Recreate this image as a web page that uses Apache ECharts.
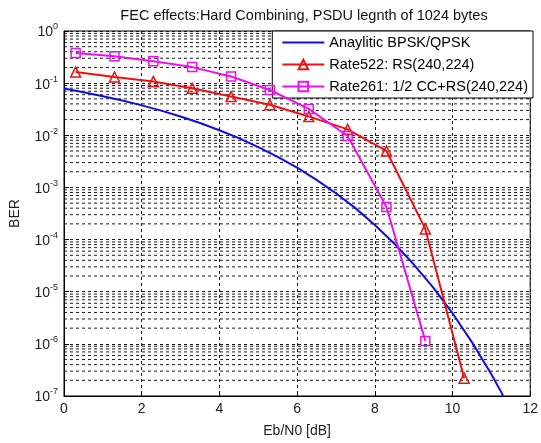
<!DOCTYPE html>
<html>
<head>
<meta charset="utf-8">
<script src="https://cdn.jsdelivr.net/npm/echarts@6/dist/echarts.min.js"></script>
<style>html,body{margin:0;padding:0;background:#fff}#c{width:541px;height:443px}</style>
</head>
<body>
<div id="c"></div>
<script>
// Analytic BPSK/QPSK curve
const bpskX = [0,0.5,1,1.5,2,2.5,3,3.5,4,4.5,5,5.5,6,6.5,7,7.5,8,8.5,9,9.5,10,10.5,11,11.25,11.5];
const bpskY = [0.0786,0.0671,0.0563,0.0464,0.0375,0.0297,0.0229,0.0172,0.0125,0.0088,0.00595,0.00386,0.00239,0.0014,7.73e-4,4.01e-4,1.91e-4,8.4e-5,3.36e-5,1.21e-5,3.87e-6,1.08e-6,2.61e-7,1.2e-7,5.3e-8];
// Rate522: RS(240,224)
const r522X = [0.3,1.3,2.3,3.3,4.3,5.3,6.3,7.3,8.3,9.3,10.3];
const r522Y = [0.163,0.131,0.108,0.0795,0.0552,0.0385,0.023,0.013,0.0050,1.6e-4,2.2e-7];
// Rate261: 1/2 CC+RS(240,224)
const r261X = [0.3,1.3,2.3,3.3,4.3,5.3,6.3,7.3,8.3,9.3];
const r261Y = [0.379,0.327,0.264,0.203,0.134,0.0738,0.032,0.0097,4.2e-4,1.14e-6];
// minor grid values
const minorExp = [-7,-6,-5,-4,-3,-2,-1];
const minorMant = [2,3,4,5,6,7,8,9];
const seriesNames = ['Anaylitic BPSK/QPSK','Rate522: RS(240,224)','Rate261: 1/2 CC+RS(240,224)'];
const titleText = 'FEC effects:Hard Combining, PSDU legnth of 1024 bytes';

const zip = (xs, ys) => xs.map((x, i) => [x, ys[i]]);
const minorData = [];
minorExp.forEach(e => minorMant.forEach(m => {
  const v = m * Math.pow(10, e);
  minorData.push([0, v], [12, v], [12, '-']);
}));

const FONT = 'Liberation Sans, Arial, sans-serif';
const GRIDC = '#1a1a1a';
const chart = echarts.init(document.getElementById('c'));
chart.setOption({
  animation: false,
  backgroundColor: '#fff',
  title: {
    text: titleText, left: 299, top: 3, textAlign: 'center',
    textStyle: {fontFamily: FONT, fontSize: 14.5, fontWeight: 'normal', color: '#111'}
  },
  grid: {left: 62, right: 8, top: 31, bottom: 41, show: true, borderColor: '#000', borderWidth: 1, backgroundColor: 'transparent'},
  legend: {
    data: [
      {name: seriesNames[0], itemStyle: {opacity: 0}},
      {name: seriesNames[1]},
      {name: seriesNames[2]}
    ],
    orient: 'vertical', right: 8, top: 31,
    backgroundColor: '#fff', borderColor: '#000', borderWidth: 1, borderRadius: 0,
    padding: [4, 5, 4, 9], itemGap: 7, itemWidth: 42, itemHeight: 12,
    textStyle: {fontFamily: FONT, fontSize: 14.5, color: '#000'}
  },
  xAxis: {
    type: 'value', min: 0, max: 12, interval: 2,
    name: 'Eb/N0 [dB]', nameLocation: 'middle', nameGap: 28,
    nameTextStyle: {fontFamily: FONT, fontSize: 14, color: '#222'},
    axisLine: {show: true, lineStyle: {color: '#000'}},
    axisTick: {show: true, inside: true, length: 5, lineStyle: {color: '#000'}},
    axisLabel: {fontFamily: FONT, fontSize: 14, color: '#222', margin: 6},
    splitLine: {show: true, lineStyle: {color: GRIDC, type: [3, 3], width: 1}}
  },
  yAxis: {
    type: 'log', logBase: 10, min: 1e-7, max: 1,
    name: 'BER', nameLocation: 'middle', nameGap: 42,
    nameTextStyle: {fontFamily: FONT, fontSize: 14, color: '#222'},
    axisLine: {show: true, lineStyle: {color: '#000'}},
    axisTick: {show: true, inside: true, length: 5, lineStyle: {color: '#000'}},
    axisLabel: {
      fontFamily: FONT, fontSize: 14, color: '#222', margin: 6,
      formatter: v => '{b|10}{s|' + Math.round(Math.log10(v)) + '}',
      rich: {
        b: {fontFamily: FONT, fontSize: 14, color: '#222', verticalAlign: 'bottom'},
        s: {fontFamily: FONT, fontSize: 9, color: '#222', verticalAlign: 'top', padding: [0, 0, 8, 0]}
      }
    },
    splitLine: {show: true, lineStyle: {color: GRIDC, type: [3, 3], width: 1}}
  },
  series: [
    {
      name: 'minor', type: 'line', data: minorData, z: 1, silent: true,
      symbol: 'none', showSymbol: false, connectNulls: false,
      lineStyle: {color: GRIDC, type: [3, 3], width: 1}
    },
    {
      name: seriesNames[0], type: 'line', data: zip(bpskX, bpskY), z: 3,
      showSymbol: false, symbol: 'none', smooth: false,
      lineStyle: {color: '#1010d8', width: 2}, itemStyle: {color: '#1010d8'}
    },
    {
      name: seriesNames[1], type: 'line', data: zip(r522X, r522Y), z: 4,
      symbol: 'triangle', symbolSize: 10,
      lineStyle: {color: '#ee1111', width: 2},
      itemStyle: {color: 'rgba(0,0,0,0)', borderColor: '#ee1111', borderWidth: 1.5}
    },
    {
      name: seriesNames[2], type: 'line', data: zip(r261X, r261Y), z: 5,
      symbol: 'rect', symbolSize: 9,
      lineStyle: {color: '#ee11ee', width: 2},
      itemStyle: {color: 'rgba(0,0,0,0)', borderColor: '#ee11ee', borderWidth: 1.5}
    }
  ]
});
</script>
</body>
</html>
